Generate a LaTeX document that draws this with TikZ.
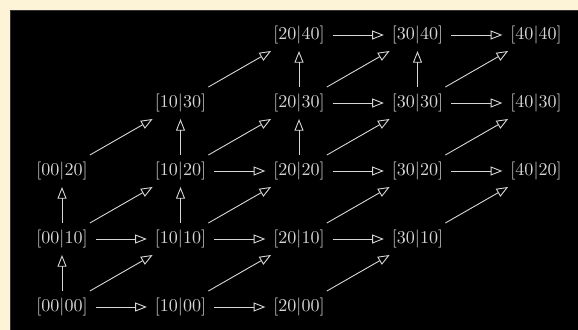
\documentclass[tikz,border=0pt]{standalone}
\usetikzlibrary{arrows.meta}
\definecolor{cream}{HTML}{FDF3D6}
\definecolor{fg}{HTML}{D6D6D6}
\begin{document}
\begin{tikzpicture}[x=0.555pt,y=-0.555pt,
  cell/.style={text=fg, inner xsep=1ex, inner ysep=0.85ex},
  arr/.style={draw=fg, line width=0.5pt, -{Triangle[open,length=6.5pt,width=5pt]}}]
\useasboundingbox (0,0) rectangle (578,330);
\fill[cream] (0,0) rectangle (578,330);
\filldraw[fill=black, draw=black!80!white, line width=0.4pt] (10,10) rectangle (579,331);
% nodes n<a><b>
\foreach \a/\b/\x/\y in {0/0/62/307, 1/0/180.5/307, 2/0/299/307,
  0/1/62/239, 1/1/180.5/239, 2/1/299/239, 3/1/417.5/239,
  0/2/62/171, 1/2/180.5/171, 2/2/299/171, 3/2/417.5/171, 4/2/536/171,
  1/3/180.5/103, 2/3/299/103, 3/3/417.5/103, 4/3/536/103,
  2/4/299/35, 3/4/417.5/35, 4/4/536/35}
  \node[cell] (n\a\b) at (\x,\y) {$[\a0|\b0]$};
% horizontal
\foreach \s/\t in {00/10, 10/20, 01/11, 11/21, 21/31, 12/22, 22/32, 32/42, 23/33, 33/43, 24/34, 34/44}
  \draw[arr] (n\s) -- (n\t);
% vertical
\foreach \s/\t in {00/01, 01/02, 11/12, 12/13, 22/23, 23/24, 33/34}
  \draw[arr] (n\s) -- (n\t);
% diagonal
\foreach \s/\t in {00/11, 01/12, 02/13, 10/21, 11/22, 12/23, 13/24, 20/31, 21/32, 22/33, 23/34, 31/42, 32/43, 33/44}
  \draw[arr] (n\s) -- (n\t);
\end{tikzpicture}
\end{document}
